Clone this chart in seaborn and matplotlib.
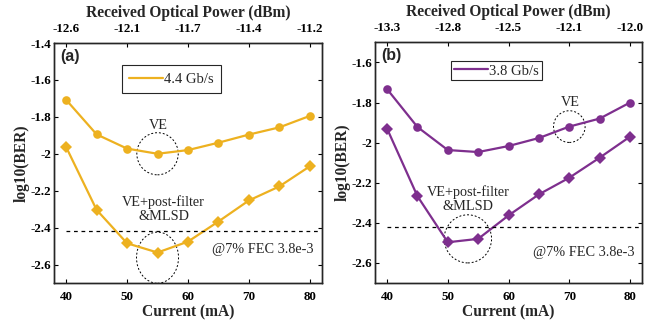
import numpy as np
import pandas as pd
import matplotlib
matplotlib.use("Agg")
import matplotlib.pyplot as plt
import seaborn as sns
from matplotlib.patches import Ellipse
from matplotlib.lines import Line2D
from matplotlib.font_manager import FontProperties

# ---------------- data ----------------
current = [40, 45, 50, 55, 60, 65, 70, 75, 80]

a_ve = [-1.708, -1.895, -1.972, -2.000, -1.980, -1.940, -1.896, -1.857, -1.795]
a_mlsd = [-1.964, -2.304, -2.485, -2.535, -2.476, -2.367, -2.253, -2.177, -2.068]
a_top_ticks = [40, 50, 60, 70, 80]
a_top_labels = ["-12.6", "-12.1", "-11.7", "-11.4", "-11.2"]
a_label = "4.4 Gb/s"

b_ve = [-1.733, -1.922, -2.037, -2.047, -2.017, -1.977, -1.920, -1.880, -1.800]
b_mlsd = [-1.930, -2.267, -2.497, -2.480, -2.363, -2.258, -2.175, -2.075, -1.970]
b_top_ticks = [40, 50, 60, 70, 80]
b_top_labels = ["-13.3", "-12.8", "-12.5", "-12.1", "-12.0"]
b_label = "3.8 Gb/s"

fec = np.log10(3.8e-3)

orange = "#EDB120"
purple = "#7E2F8E"

sns.set_theme(style="ticks")
plt.rcParams["font.family"] = ["Liberation Serif", "DejaVu Serif"]

fig = plt.figure(figsize=(6.52, 3.26), dpi=100)
ax_a = fig.add_axes([0.0828, 0.132, 0.411, 0.736])
ax_b = fig.add_axes([0.575, 0.132, 0.410, 0.738])

tick_fp = FontProperties(family="Liberation Serif", weight="bold", size=9.4)
label_font = dict(family="Liberation Serif", weight="bold", size=11.2)
ann_font = dict(family="Liberation Serif", size=10.3)


def panel(ax, ve, mlsd, color, ylim, yticks, top_ticks, top_labels, leg_label,
          leg_pos, leg_pad, tag, ve_ell, ml_ell, ve_txt, ml_txt, fec_txt):
    df = pd.DataFrame({"current": current, "ve": ve, "mlsd": mlsd})
    sns.lineplot(data=df, x="current", y="ve", ax=ax, color=color, marker="o",
                 markersize=6.2, markeredgewidth=0, linewidth=1.6)
    sns.lineplot(data=df, x="current", y="mlsd", ax=ax, color=color, marker="D",
                 markersize=5.8, markeredgewidth=0, linewidth=1.6)
    ax.hlines(fec, 40, 81.5, colors="black", linestyles=(0, (3, 3)), linewidth=0.9)
    ax.set_xlim(38, 82)
    ax.set_ylim(*ylim)
    ax.set_xticks([40, 50, 60, 70, 80])
    ax.set_yticks(yticks)
    ax.set_yticklabels([("%g" % t) for t in yticks])
    ax.set_xticklabels([str(t) for t in [40, 50, 60, 70, 80]])
    for lab in ax.get_xticklabels() + ax.get_yticklabels():
        lab.set_fontproperties(tick_fp)
    ax.tick_params(direction="in", length=3, width=0.8, top=False, right=True,
                   colors="black")
    ax.tick_params(axis="x", pad=6)
    ax.tick_params(axis="y", pad=2)
    ax.set_xlabel("Current (mA)", **label_font, labelpad=1)
    ax.set_ylabel("log10(BER)", **label_font, labelpad=0.5)
    for s in ax.spines.values():
        s.set_color("#262626")
        s.set_linewidth(1.0)

    ax2 = ax.twiny()
    ax2.set_xlim(ax.get_xlim())
    ax2.set_xticks(top_ticks)
    ax2.set_xticklabels(top_labels)
    for lab in ax2.get_xticklabels():
        lab.set_fontproperties(tick_fp)
    ax2.tick_params(direction="in", length=3, width=0.8, pad=6, colors="black")
    ax2.set_xlabel("Received Optical Power (dBm)", **label_font, labelpad=4)
    for s in ax2.spines.values():
        s.set_color("#262626")
        s.set_linewidth(1.0)

    handle = Line2D([], [], color=color, linewidth=1.6)
    leg = ax.legend([handle], [leg_label], loc="upper left",
                    bbox_to_anchor=leg_pos, frameon=True, fancybox=False,
                    edgecolor="#262626", framealpha=1, handlelength=2.3,
                    handletextpad=0.1, borderpad=leg_pad, borderaxespad=0,
                    prop=dict(family="Liberation Serif", size=10.5))
    leg.get_frame().set_linewidth(0.8)

    ax.text(0.025, 0.975, tag, transform=ax.transAxes, ha="left", va="top",
            family="Liberation Sans", weight="bold", size=11.5)

    for (cx, cy, w, h) in (ve_ell, ml_ell):
        ax.add_patch(Ellipse((cx, cy), w, h, fill=False, edgecolor="black",
                             linestyle=(0, (2, 2)), linewidth=0.7))
    ax.text(ve_txt[0], ve_txt[1], "VE", ha="center", va="center", **ann_font)
    ax.text(ml_txt[0], ml_txt[1], "VE+post-filter\n&MLSD", ha="center",
            va="center", linespacing=1.1, **ann_font)
    ax.text(fec_txt[0], fec_txt[1], "@7% FEC 3.8e-3", ha="center",
            va="center", **ann_font)


panel(ax_a, a_ve, a_mlsd, orange, (-2.7, -1.4),
      [-2.6, -2.4, -2.2, -2.0, -1.8, -1.6, -1.4],
      a_top_ticks, a_top_labels, a_label, (0.254, 0.908), 0.5, "(a)",
      (55, -2.0, 6.8, 0.228), (55, -2.563, 6.9, 0.277),
      (55.1, -1.846), (56.0, -2.30), (72.2, -2.52))

panel(ax_b, b_ve, b_mlsd, purple, (-2.7, -1.5),
      [-2.6, -2.4, -2.2, -2.0, -1.8, -1.6],
      b_top_ticks, b_top_labels, b_label, (0.285, 0.921), 0.2, "(b)",
      (70, -1.92, 5.2, 0.158), (53.3, -2.48, 7.8, 0.24),
      (70.2, -1.80), (53.3, -2.28), (72.4, -2.547))

fig.savefig("out.png", dpi=100)
